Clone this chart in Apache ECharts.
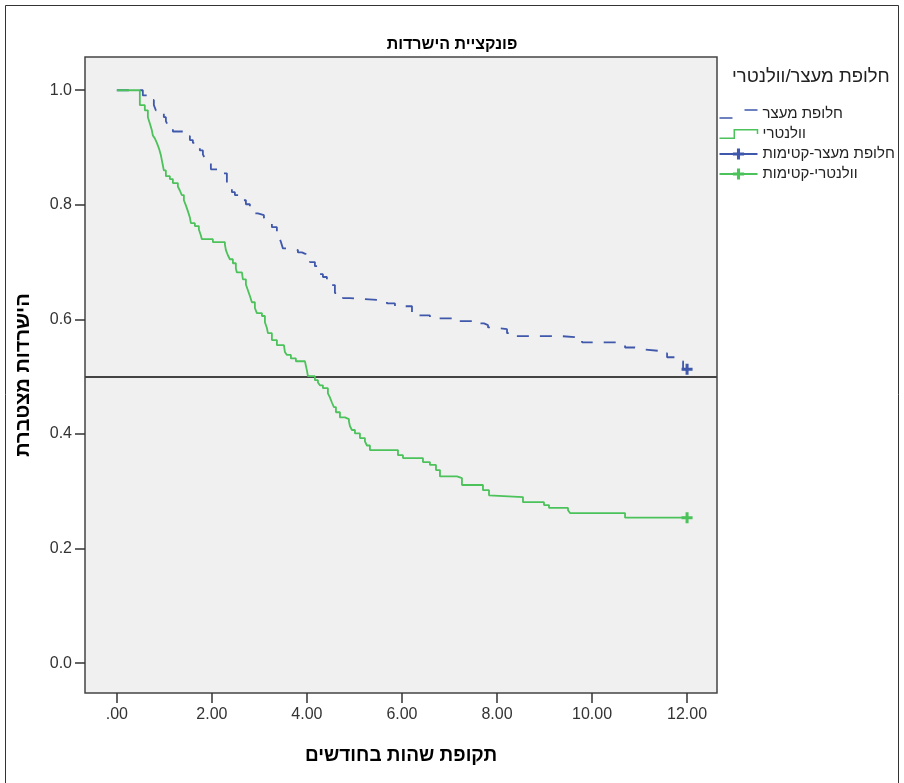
<!DOCTYPE html>
<html>
<head>
<meta charset="utf-8">
<script src="https://cdn.jsdelivr.net/npm/echarts@6/dist/echarts.min.js"></script>
<style>
  html, body { margin: 0; padding: 0; background: #fff; }
  #chart { width: 904px; height: 783px; }
</style>
</head>
<body>
<div id="chart"></div>
<script>
// קבוצת חלופת מעצר
const blueTimes = [0, 0.547, 0.695, 0.779, 0.821, 0.905, 0.989, 1.032, 1.074, 1.179, 1.389, 1.537, 1.600, 1.663, 1.747, 1.811, 1.853, 1.895, 1.979, 2.168, 2.316, 2.337, 2.421, 2.484, 2.611, 2.716, 2.800, 2.842, 2.968, 3.095, 3.137, 3.179, 3.263, 3.368, 3.411, 3.453, 3.495, 3.684, 3.811, 3.895, 3.979, 4.063, 4.168, 4.232, 4.337, 4.421, 4.505, 4.589, 4.695, 4.758, 4.905, 5.495, 5.684, 5.853, 6.211, 6.589, 7.053, 7.537, 7.726, 7.811, 7.916, 8.211, 8.316, 9.326, 9.684, 9.789, 10.526, 10.695, 10.905, 11.011, 11.432, 11.579, 11.747, 11.811, 11.916, 12.0];
const blueSurv = [1.000, 0.991, 0.983, 0.974, 0.965, 0.960, 0.953, 0.946, 0.939, 0.928, 0.920, 0.913, 0.908, 0.902, 0.895, 0.888, 0.881, 0.874, 0.862, 0.855, 0.838, 0.829, 0.822, 0.817, 0.808, 0.801, 0.794, 0.785, 0.782, 0.778, 0.773, 0.768, 0.761, 0.754, 0.745, 0.735, 0.724, 0.721, 0.717, 0.714, 0.707, 0.700, 0.693, 0.679, 0.674, 0.668, 0.660, 0.646, 0.641, 0.637, 0.634, 0.632, 0.628, 0.623, 0.607, 0.602, 0.597, 0.593, 0.590, 0.586, 0.583, 0.576, 0.571, 0.569, 0.565, 0.560, 0.557, 0.551, 0.548, 0.545, 0.541, 0.534, 0.531, 0.527, 0.513, 0.513];

// קבוצת וולנטרי
const greenTimes = [0, 0.484, 0.589, 0.653, 0.695, 0.737, 0.758, 0.800, 0.842, 0.884, 0.926, 0.947, 0.968, 0.989, 1.032, 1.116, 1.179, 1.284, 1.326, 1.368, 1.411, 1.453, 1.495, 1.537, 1.558, 1.642, 1.726, 1.768, 1.789, 2.021, 2.274, 2.295, 2.337, 2.379, 2.442, 2.505, 2.526, 2.632, 2.653, 2.716, 2.758, 2.800, 2.842, 2.905, 2.947, 3.053, 3.116, 3.158, 3.179, 3.263, 3.368, 3.516, 3.537, 3.579, 3.663, 3.768, 3.958, 4.000, 4.021, 4.168, 4.232, 4.274, 4.337, 4.442, 4.484, 4.526, 4.568, 4.611, 4.695, 4.800, 4.884, 4.905, 4.947, 5.011, 5.116, 5.221, 5.263, 5.326, 5.916, 6.021, 6.442, 6.589, 6.716, 6.800, 7.158, 7.263, 7.705, 7.832, 7.874, 8.547, 8.989, 9.095, 9.495, 9.537, 10.695, 12.0];
const greenSurv = [1.000, 0.974, 0.965, 0.953, 0.942, 0.930, 0.921, 0.916, 0.908, 0.899, 0.887, 0.878, 0.869, 0.860, 0.850, 0.845, 0.838, 0.832, 0.825, 0.817, 0.808, 0.799, 0.789, 0.778, 0.768, 0.763, 0.757, 0.747, 0.740, 0.735, 0.731, 0.721, 0.712, 0.705, 0.698, 0.689, 0.682, 0.679, 0.670, 0.661, 0.651, 0.641, 0.630, 0.620, 0.611, 0.606, 0.595, 0.585, 0.576, 0.564, 0.555, 0.553, 0.543, 0.538, 0.532, 0.527, 0.524, 0.511, 0.501, 0.494, 0.490, 0.485, 0.480, 0.471, 0.464, 0.455, 0.447, 0.438, 0.429, 0.426, 0.422, 0.414, 0.407, 0.401, 0.393, 0.387, 0.380, 0.372, 0.363, 0.358, 0.351, 0.346, 0.337, 0.326, 0.323, 0.311, 0.302, 0.293, 0.290, 0.281, 0.276, 0.271, 0.267, 0.262, 0.254, 0.254];

// קטימות
const blueCensor = [[12.0, 0.513]];
const greenCensor = [[12.0, 0.254]];

const xTicks = [0, 2, 4, 6, 8, 10, 12];
const yTicks = [0, 0.2, 0.4, 0.6, 0.8, 1.0];
const medianLine = 0.5;

const seriesNames = ["חלופת מעצר", "וולנטרי", "חלופת מעצר-קטימות", "וולנטרי-קטימות"];

const BLUE = "#3F58AB";
const GREEN = "#4BC25A";
const FONT = "'Liberation Sans', 'DejaVu Sans', sans-serif";
const crossPath = "path://M4,0L7,0L7,4L11,4L11,7L7,7L7,11L4,11L4,7L0,7L0,4L4,4Z";

const zip = (xs, ys) => xs.map((x, i) => [x, ys[i]]);

const myChart = echarts.init(document.getElementById("chart"));

const options = {
  backgroundColor: "#ffffff",
  animation: false,
  textStyle: { fontFamily: FONT },
  title: {
    text: "פונקציית הישרדות",
    left: "center",
    top: 32,
    textStyle: { fontFamily: FONT, fontSize: 16, fontWeight: "bold", color: "#000" },
  },
  legend: {
    orient: "vertical",
    left: 717,
    top: 105,
    padding: 0,
    itemWidth: 38,
    itemHeight: 14,
    itemGap: 2,
    textStyle: { fontFamily: FONT, fontSize: 15, lineHeight: 18, color: "#222" },
    data: [
      {
        name: seriesNames[0],
        icon: "path://M0,10L13,10M25,2L38,2",
        itemStyle: { color: "none", borderColor: BLUE, borderWidth: 1.5 },
      },
      {
        name: seriesNames[1],
        icon: "path://M0,10L14,10L14,2L36,2L36,6",
        itemStyle: { color: "none", borderColor: GREEN, borderWidth: 1.5 },
      },
      { name: seriesNames[2] },
      { name: seriesNames[3] },
    ],
  },
  graphic: [
    {
      type: "rect",
      shape: { x: 5.5, y: 5.5, width: 893, height: 800 },
      style: { fill: "none", stroke: "#333", lineWidth: 1 },
      silent: true,
    },
    {
      type: "text",
      left: 732,
      top: 67,
      style: { text: "חלופת מעצר/וולנטרי", font: "18.5px " + FONT, fill: "#222" },
      silent: true,
    },
  ],
  grid: {
    left: 85,
    right: 187,
    top: 57,
    bottom: 90,
    show: true,
    backgroundColor: "#F0F0F0",
    borderColor: "#444",
    borderWidth: 1.5,
    containLabel: false,
    outerBoundsMode: "none",
  },
  xAxis: {
    type: "value",
    min: -0.67,
    max: 12.63,
    name: "תקופת שהות בחודשים",
    nameLocation: "middle",
    nameGap: 53,
    nameTextStyle: { fontFamily: FONT, fontSize: 19, fontWeight: "bold", color: "#000" },
    axisLine: { show: false, onZero: false },
    axisTick: {
      show: true,
      length: 10,
      customValues: xTicks,
      lineStyle: { color: "#333", width: 1.5 },
    },
    axisLabel: {
      customValues: xTicks,
      margin: 14,
      fontSize: 16,
      color: "#333",
      formatter: (v) => (v === 0 ? ".00" : v.toFixed(2)),
    },
    splitLine: { show: false },
  },
  yAxis: {
    type: "value",
    min: -0.052,
    max: 1.058,
    name: "הישרדות מצטברת",
    nameLocation: "middle",
    nameGap: 52,
    nameTextStyle: { fontFamily: FONT, fontSize: 20, fontWeight: "bold", color: "#000" },
    axisLine: { show: false, onZero: false },
    axisTick: {
      show: true,
      length: 10,
      customValues: yTicks,
      lineStyle: { color: "#333", width: 1.5 },
    },
    axisLabel: {
      customValues: yTicks,
      margin: 13,
      fontSize: 16,
      color: "#333",
      formatter: (v) => v.toFixed(1),
    },
    splitLine: { show: false },
  },
  series: [
    {
      name: seriesNames[0],
      type: "line",
      step: "end",
      data: zip(blueTimes, blueSurv),
      symbol: "none",
      color: BLUE,
      lineStyle: { color: BLUE, width: 1.8, type: [12, 11] },
      z: 3,
    },
    {
      name: seriesNames[1],
      type: "line",
      step: "end",
      data: zip(greenTimes, greenSurv),
      symbol: "none",
      color: GREEN,
      lineStyle: { color: GREEN, width: 1.8 },
      z: 3,
      markLine: {
        silent: true,
        symbol: "none",
        label: { show: false },
        lineStyle: { color: "#444", width: 2, type: "solid" },
        data: [{ yAxis: medianLine }],
        z: 2,
      },
    },
    {
      name: seriesNames[2],
      type: "line",
      data: blueCensor,
      symbol: crossPath,
      symbolSize: 11,
      showSymbol: true,
      color: BLUE,
      itemStyle: { color: BLUE },
      lineStyle: { color: BLUE, width: 1.5 },
      z: 4,
    },
    {
      name: seriesNames[3],
      type: "line",
      data: greenCensor,
      symbol: crossPath,
      symbolSize: 11,
      showSymbol: true,
      color: GREEN,
      itemStyle: { color: GREEN },
      lineStyle: { color: GREEN, width: 1.5 },
      z: 4,
    },
  ],
};

myChart.setOption(options);
</script>
</body>
</html>
